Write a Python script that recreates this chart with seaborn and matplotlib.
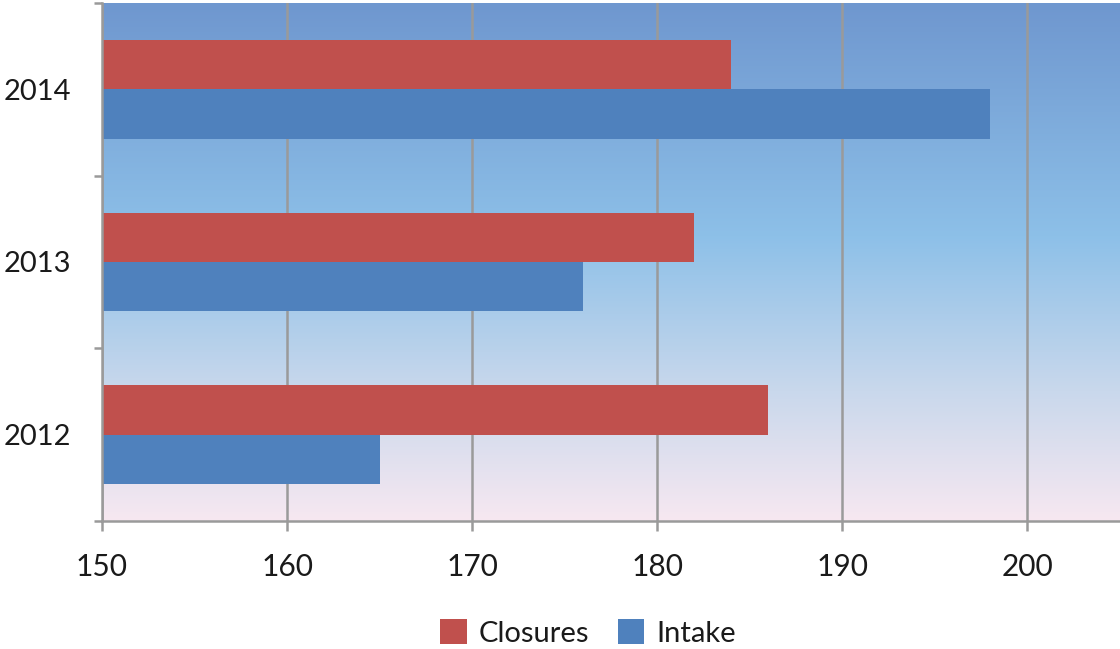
import numpy as np
import pandas as pd
import matplotlib
matplotlib.use("Agg")
import matplotlib.pyplot as plt
from matplotlib.colors import LinearSegmentedColormap
from matplotlib.patches import Patch
import seaborn as sns

years = ["2014", "2013", "2012"]
closures = [184, 182, 186]
intake = [198, 176, 165]
series = ["Closures", "Intake"]
colors = ["#C0504D", "#4F81BD"]
x_ticks = [150, 160, 170, 180, 190, 200]

df = pd.DataFrame({
    "year": years * 2,
    "value": closures + intake,
    "series": ["Closures"] * 3 + ["Intake"] * 3,
})

sns.set_theme(style="white")
plt.rcParams["font.family"] = ["Lato", "DejaVu Sans"]

fig = plt.figure(figsize=(11.2, 6.49), dpi=100)
ax = fig.add_axes([102 / 1120, 1 - 521 / 649, 1 - 102 / 1120, (521 - 3) / 649])

sns.barplot(data=df, x="value", y="year", hue="series", order=years,
            hue_order=series, palette=colors, orient="h", width=0.57,
            saturation=1, ax=ax, legend=False, zorder=3,
            edgecolor="none", linewidth=0)

# vertical gradient behind the bars: blue at the top fading to pale pink
grad = LinearSegmentedColormap.from_list(
    "bg", [(0.0, "#6f97cf"), (0.45, "#8dc0e8"), (0.75, "#c9d8ec"), (1.0, "#f7e8f1")])
ax.imshow(np.linspace(0, 1, 256).reshape(-1, 1), cmap=grad, aspect="auto",
          extent=(150, 205, 2.5, -0.5), zorder=0, interpolation="bicubic")
ax.set_xlim(150, 205)
ax.set_ylim(2.5, -0.5)

ax.set_xticks(x_ticks)
ax.set_xticklabels([str(t) for t in x_ticks])
ax.grid(axis="x", color="#9a9a9a", linewidth=1.8)
ax.set_axisbelow(False)
for line in ax.get_xgridlines():
    line.set_zorder(1)

ax.set_yticks([-0.5, 0.5, 1.5, 2.5])
ax.set_yticklabels([])
ax.set_yticks([0, 1, 2], minor=True)
ax.set_yticklabels(years, minor=True)
ax.tick_params(axis="y", which="major", length=6, width=1.8, color="#9a9a9a", left=True)
ax.tick_params(axis="y", which="minor", length=0, pad=22, labelsize=21, labelcolor="#1a1a1a")
ax.tick_params(axis="x", length=7, width=1.8, color="#9a9a9a", pad=16, bottom=True,
               labelsize=21.5, labelcolor="#1a1a1a")

for side in ["top", "right"]:
    ax.spines[side].set_visible(False)
for side in ["left", "bottom"]:
    ax.spines[side].set_color("#9a9a9a")
    ax.spines[side].set_linewidth(1.8)
    ax.spines[side].set_zorder(4)

ax.set_xlabel("")
ax.set_ylabel("")

handles = [Patch(facecolor=c, edgecolor="none") for c in colors]
fig.legend(handles, series, loc="center", bbox_to_anchor=(588 / 1120, 1 - 633 / 649),
           ncol=2, frameon=False, fontsize=21, handlelength=0.9, handleheight=0.9,
           handletextpad=0.4, columnspacing=1.0, labelcolor="#1a1a1a")

fig.savefig("out.png", dpi=100)
